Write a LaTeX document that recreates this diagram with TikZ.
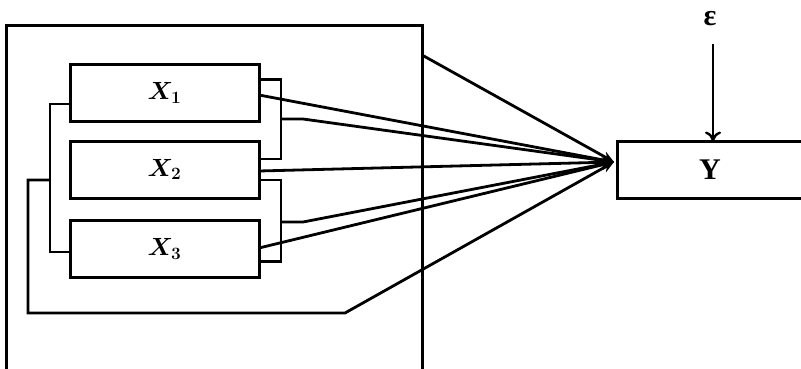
\documentclass[tikz,border=0pt]{standalone}
\usepackage{fontspec}
\newfontfamily\labelfont{Liberation Serif}
\usetikzlibrary{arrows.meta,calc}
\begin{document}
\begin{tikzpicture}[x=1pt,y=-1pt,
  every node/.style={inner sep=0pt, outer sep=0pt},
  varbox/.style={draw, line width=3pt, minimum width=189pt, minimum height=57pt,
    font=\fontsize{24}{28}\selectfont\boldmath},
  wire/.style={line width=2.8pt, line join=miter},
  feed/.style={wire, -{Stealth[length=12pt,width=10pt]}},
]
\useasboundingbox (0,0) rectangle (801,369);

% enclosing frame around the predictors (its bottom edge runs off the page)
\node (frame) [draw, line width=3pt, anchor=north west, minimum width=416pt,
  minimum height=350pt] at (6,26) {};

% predictor boxes
\node (X1) [varbox] at (164.5,93)  {$X_1$};
\node (X2) [varbox] at (164.5,169.5) {$X_2$};
\node (X3) [varbox] at (164.5,249) {$X_3$};

% response box (runs past the right edge)
\node (Y) [draw, line width=3pt, minimum width=186pt, minimum height=57pt,
  font=\labelfont\fontsize{30}{32}\selectfont\bfseries] at (710,170) {Y};

% error term
\node (eps) [font=\labelfont\fontsize{30}{32}\selectfont\bfseries] at (710,19) {ε};
\coordinate (epsstart) at (713,44);
\draw[wire, -{To[length=10pt,width=16pt,line width=2.4pt]}] (epsstart) -- (epsstart |- Y.north);

% common arrow tip on the left side of Y
\coordinate (tip) at (614,162);

% interaction brackets on the right
\coordinate (b12) at (281,119);
\coordinate (b23) at (281,222);
\draw[wire] ($(X1.north east)+(0,15)$) -| (b12) |- ($(X2.north east)+(0,18)$);
\draw[wire] ($(X2.south east)+(0,-18)$) -| (b23) |- ($(X3.south east)+(0,-16)$);

% joint bracket on the left and its loop under the boxes
\coordinate (lb) at (50,180);
\draw[wire] ($(X1.west)+(0,11)$) -- ++(-20,0) |- ($(X3.west)+(0,3)$);
\coordinate (loopA) at (28,180);
\coordinate (loopB) at (28,313);
\coordinate (loopC) at (345,313);
\draw[feed] (lb) -- (loopA) -- (loopB) -- (loopC) -- (tip);

% effects converging on Y
\draw[feed] ($(X1.east)+(0,2)$) -- (tip);
\draw[feed] (b12) -- ++(22,0) -- (tip);
\draw[feed] ($(X2.east)+(0,1.5)$) -- (tip);
\draw[feed] (b23) -- ++(22,0) -- (tip);
\draw[feed] ($(X3.east)+(0,-1)$) -- (tip);
\draw[feed] (frame.east |- 0,55) -- (tip);
\end{tikzpicture}
\end{document}
